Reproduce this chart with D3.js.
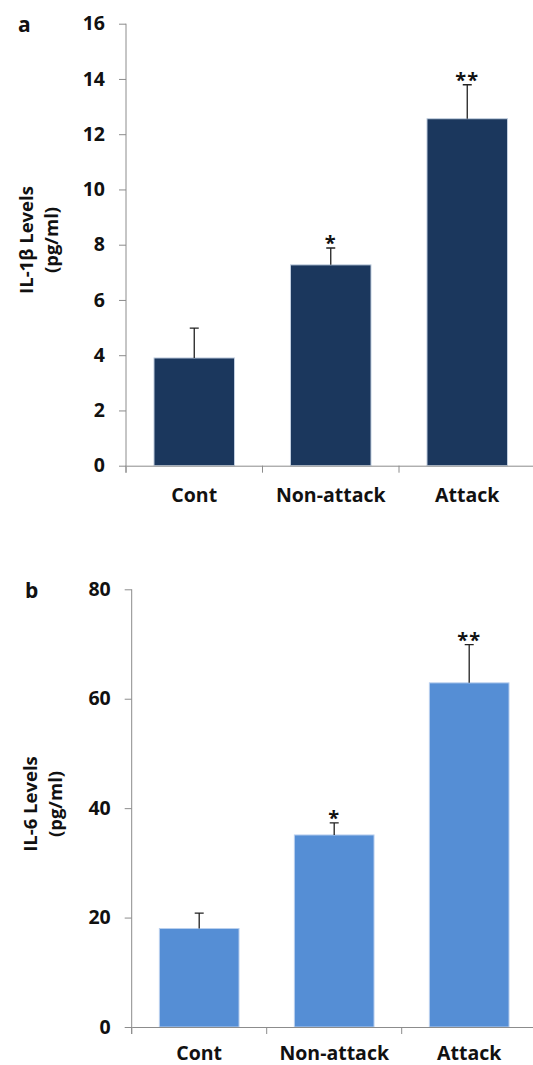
<!DOCTYPE html>
<html>
<head>
<meta charset="utf-8">
<script src="https://cdn.jsdelivr.net/npm/d3@7"></script>
<style>
  body { margin: 0; background: #fff; }
  svg { display: block; }
  text { font-family: "Open Sans", "Liberation Sans", sans-serif; font-weight: bold; fill: #111; }
  .axis path, .axis line { stroke: #8c8c8c; }
</style>
</head>
<body>
<div id="chart"></div>
<script>
// data
const categories = ["Cont", "Non-attack", "Attack"];

const il1bMeans = [3.9, 7.27, 12.56];
const il1bErrors = [1.08, 0.61, 1.23];
const il1bStars = ["", "*", "**"];
const il1bTicks = [0, 2, 4, 6, 8, 10, 12, 14, 16];

const il6Means = [18.0, 35.1, 62.9];
const il6Errors = [2.8, 2.2, 7.0];
const il6Stars = ["", "*", "**"];
const il6Ticks = [0, 20, 40, 60, 80];

const svg = d3.select("#chart").append("svg")
    .attr("width", 533)
    .attr("height", 1065);

function drawPanel(opts) {
    const g = svg.append("g");

    const x = d3.scaleBand()
        .domain(categories)
        .range([opts.left, opts.right])
        .padding(0);

    const y = d3.scaleLinear()
        .domain([0, d3.max(opts.ticks)])
        .range([opts.bottom, opts.top]);

    // panel letter
    g.append("text")
        .attr("x", opts.letterX)
        .attr("y", opts.letterY)
        .style("font-size", "21px")
        .text(opts.letter);

    // y axis
    const yAxis = d3.axisLeft(y)
        .tickValues(opts.ticks)
        .tickSize(7)
        .tickPadding(14)
        .tickFormat(d3.format("d"));

    const yG = g.append("g")
        .attr("class", "axis")
        .attr("transform", `translate(${opts.left},0)`)
        .call(yAxis);
    yG.select(".domain").attr("d", `M0,${y.range()[1]}V${opts.bottom + 7}`);
    yG.selectAll("text")
        .style("font-size", "19.5px")
        .style("font-family", null)
        .attr("fill", "#111");

    // y axis title, two lines
    opts.title.forEach((line, i) => {
        g.append("text")
            .attr("transform", `translate(${opts.titleX[i]},${opts.titleY}) rotate(-90)`)
            .attr("text-anchor", "middle")
            .style("font-size", "18.5px")
            .text(line);
    });

    // bars
    const barW = x.bandwidth() * 0.59;
    const rows = categories.map((c, i) => ({
        cat: c, mean: opts.means[i], err: opts.errors[i], star: opts.stars[i]
    }));

    g.selectAll(".bar")
        .data(rows)
        .enter()
        .append("rect")
        .attr("class", "bar")
        .attr("x", d => x(d.cat) + (x.bandwidth() - barW) / 2)
        .attr("width", barW)
        .attr("y", d => y(d.mean))
        .attr("height", d => y(0) - y(d.mean))
        .attr("fill", opts.color)
        .attr("stroke", opts.edge)
        .attr("stroke-width", 1);

    // error bars (upper only)
    const cx = d => x(d.cat) + x.bandwidth() / 2;
    g.selectAll(".err")
        .data(rows)
        .enter()
        .append("path")
        .attr("class", "err")
        .attr("d", d => `M${cx(d)},${y(d.mean)}V${y(d.mean + d.err)}M${cx(d) - 4.5},${y(d.mean + d.err)}H${cx(d) + 4.5}`)
        .attr("fill", "none")
        .attr("stroke", "#222")
        .attr("stroke-width", 1.3);

    // significance stars
    g.selectAll(".star")
        .data(rows.filter(d => d.star))
        .enter()
        .append("text")
        .attr("class", "star")
        .attr("x", cx)
        .attr("y", d => y(d.mean + d.err) + 2)
        .attr("text-anchor", "middle")
        .attr("letter-spacing", "1px")
        .style("font-size", "20px")
        .text(d => d.star);

    // x axis
    const xAxis = d3.axisBottom(x).tickSize(0).tickSizeOuter(0);
    const xG = g.append("g")
        .attr("class", "axis")
        .attr("transform", `translate(0,${opts.bottom})`)
        .call(xAxis);
    xG.selectAll("text")
        .attr("y", opts.labelOffset)
        .attr("dy", 0)
        .style("font-size", "19.5px")
        .style("font-family", null)
        .attr("fill", "#111");

    // category boundary ticks
    const bounds = categories.map(c => x(c)).concat([x.range()[1]]);
    xG.selectAll(".bound")
        .data(bounds)
        .enter()
        .append("line")
        .attr("class", "bound")
        .attr("x1", d => d)
        .attr("x2", d => d)
        .attr("y1", 0)
        .attr("y2", 7);
}

drawPanel({
    letter: "a", letterX: 18, letterY: 32,
    left: 126, right: 535.5, top: 23.7, bottom: 465.7,
    ticks: il1bTicks, means: il1bMeans, errors: il1bErrors, stars: il1bStars,
    title: ["IL-1\u03b2 Levels", "(pg/ml)"], titleX: [33, 58], titleY: 240,
    color: "#1b375d", edge: "#c3d0e0", labelOffset: 36
});

drawPanel({
    letter: "b", letterX: 25, letterY: 598,
    left: 131.7, right: 536.7, top: 589.3, bottom: 1027,
    ticks: il6Ticks, means: il6Means, errors: il6Errors, stars: il6Stars,
    title: ["IL-6 Levels", "(pg/ml)"], titleX: [37, 62], titleY: 804,
    color: "#558ed5", edge: "#b9cfee", labelOffset: 33
});
</script>
</body>
</html>
